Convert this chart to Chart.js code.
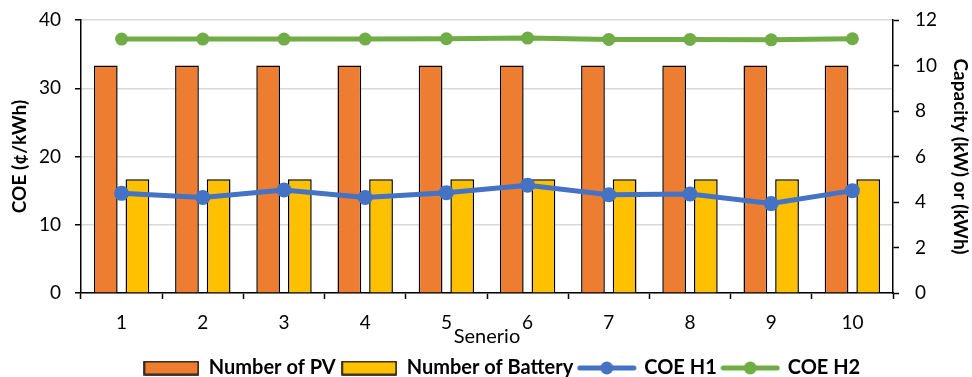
<!DOCTYPE html>
<html>
<head>
<meta charset="utf-8">
<script src="https://cdn.jsdelivr.net/npm/chart.js@4.4.0/dist/chart.umd.min.js"></script>
<style>
    body { margin: 0; background: #fff; }
    #box { width: 972px; height: 377px; }
</style>
</head>
<body>
<div id="box"><canvas id="myChartCanvas" width="972" height="377"></canvas></div>
<script>
// dados
const cenarios = ['1', '2', '3', '4', '5', '6', '7', '8', '9', '10'];
const numeroPV = [10, 10, 10, 10, 10, 10, 10, 10, 10, 10];
const numeroBateria = [5, 5, 5, 5, 5, 5, 5, 5, 5, 5];
const coeH1 = [14.6, 14.0, 15.1, 14.0, 14.7, 15.8, 14.4, 14.5, 13.1, 15.0];
const coeH2 = [37.2, 37.2, 37.2, 37.2, 37.25, 37.35, 37.15, 37.15, 37.1, 37.25];

const fonte = 'Lato';
const laranja = '#ED7D31';
const amarelo = '#FFC000';
const azul = '#4472C4';
const verde = '#70AD47';

// icones da legenda
function iconeCaixa(cor) {
    const c = document.createElement('canvas');
    c.width = 56; c.height = 15;
    const ctx = c.getContext('2d');
    ctx.fillStyle = cor;
    ctx.fillRect(1, 1, 54, 13);
    ctx.strokeStyle = '#000';
    ctx.lineWidth = 1.5;
    ctx.strokeRect(1, 1, 54, 13);
    return c;
}
function iconeLinha(cor) {
    const c = document.createElement('canvas');
    c.width = 60; c.height = 16;
    const ctx = c.getContext('2d');
    ctx.strokeStyle = cor;
    ctx.lineWidth = 5;
    ctx.lineCap = 'round';
    ctx.beginPath();
    ctx.moveTo(3, 8); ctx.lineTo(57, 8);
    ctx.stroke();
    ctx.fillStyle = cor;
    ctx.beginPath();
    ctx.arc(30, 8, 6.5, 0, Math.PI * 2);
    ctx.fill();
    return c;
}
const icones = [iconeCaixa(laranja), iconeCaixa(amarelo), iconeLinha(azul), iconeLinha(verde)];

const dados = {
    labels: cenarios,
    datasets: [
        {
            type: 'bar', label: 'Number of PV', data: numeroPV, yAxisID: 'y1',
            backgroundColor: laranja, borderColor: '#000', borderWidth: 1.5,
            categoryPercentage: 0.78, barPercentage: 0.75, order: 2
        },
        {
            type: 'bar', label: 'Number of Battery', data: numeroBateria, yAxisID: 'y1',
            backgroundColor: amarelo, borderColor: '#000', borderWidth: 1.5,
            categoryPercentage: 0.78, barPercentage: 0.75, order: 2
        },
        {
            type: 'line', label: 'COE H1', data: coeH1, yAxisID: 'y',
            borderColor: azul, backgroundColor: azul, borderWidth: 5,
            pointRadius: 7.5, pointBorderWidth: 0, tension: 0, order: 1
        },
        {
            type: 'line', label: 'COE H2', data: coeH2, yAxisID: 'y',
            borderColor: verde, backgroundColor: verde, borderWidth: 5,
            pointRadius: 6.5, pointBorderWidth: 0, tension: 0, order: 1
        }
    ]
};

// largura fixa dos eixos verticais, sem a folga extra no topo
function ajustarEixo(largura) {
    return function (escala) {
        escala.width = largura;
        escala.paddingTop = 0;
    };
}

// a legenda do original fica um pouco deslocada para a direita
const deslocarLegenda = {
    id: 'deslocarLegenda',
    afterLayout: function (chart) {
        chart.legend.left += 16;
        chart.legend.right += 16;
    }
};

const config = {
    type: 'bar',
    data: dados,
    plugins: [deslocarLegenda],
    options: {
        responsive: false,
        animation: false,
        layout: { padding: { top: 20, left: 0, right: 0, bottom: -11 } },
        plugins: {
            tooltip: { enabled: false },
            legend: {
                position: 'bottom',
                labels: {
                    usePointStyle: true,
                    pointStyleWidth: 55,
                    padding: 6,
                    color: '#000',
                    font: { family: fonte, size: 20, weight: 'bold' },
                    generateLabels: function (chart) {
                        return chart.data.datasets.map((ds, i) => ({
                            text: ds.label,
                            pointStyle: icones[i],
                            lineWidth: 0,
                            hidden: false,
                            datasetIndex: i,
                            fontColor: '#000'
                        }));
                    }
                }
            }
        },
        scales: {
            x: {
                offset: true,
                grid: { offset: true, drawOnChartArea: false, drawTicks: true, tickLength: 6, tickColor: '#000', tickWidth: 1.5 },
                border: { color: '#000', width: 1.5 },
                ticks: { color: '#000', padding: 12, font: { family: fonte, size: 19 } },
                title: { display: true, text: 'Senerio', color: '#000', padding: { top: 0, bottom: 3 }, font: { family: fonte, size: 20 } },
                afterFit: function (escala) { escala.height = 59; }
            },
            y: {
                position: 'left',
                min: 0, max: 40,
                ticks: { stepSize: 10, color: '#000', padding: 14, font: { family: fonte, size: 19 } },
                grid: { color: '#d9d9d9', lineWidth: 1.5, tickLength: 6, tickColor: '#000', tickWidth: 1.5 },
                border: { color: '#000', width: 1.5 },
                title: { display: true, text: 'COE (¢/kWh)', color: '#000', padding: { top: 8, bottom: 0 }, font: { family: fonte, size: 19, weight: 'bold' } },
                afterFit: ajustarEixo(81)
            },
            y1: {
                position: 'right',
                min: 0, max: 12,
                ticks: { stepSize: 2, color: '#000', padding: 16, font: { family: fonte, size: 19 } },
                grid: { drawOnChartArea: false, tickLength: 6, tickColor: '#000', tickWidth: 1.5 },
                border: { color: '#000', width: 1.5 },
                title: { display: true, text: 'Capacity (kW) or (kWh)', color: '#000', padding: 0, font: { family: fonte, size: 19, weight: 'bold' } },
                afterFit: ajustarEixo(79)
            }
        }
    }
};

let myChart = new Chart(document.getElementById('myChartCanvas'), config);
</script>
</body>
</html>
